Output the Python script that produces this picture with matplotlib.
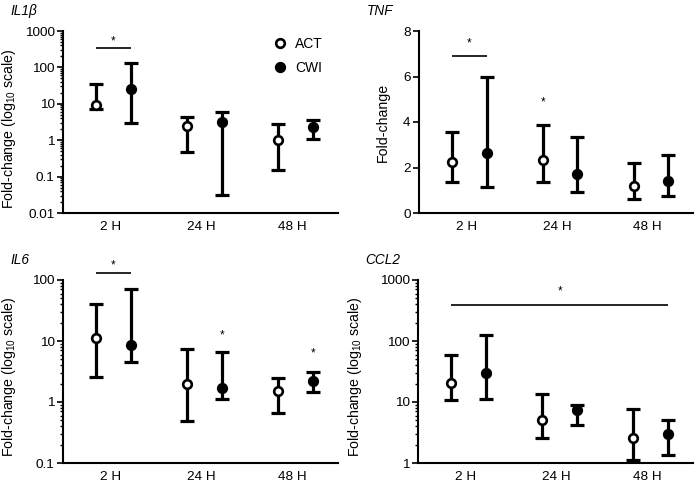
import matplotlib
matplotlib.use("Agg")
import matplotlib.pyplot as plt
from matplotlib.ticker import LogLocator, NullFormatter, FixedLocator, FuncFormatter
from matplotlib.lines import Line2D

plt.rcParams['font.family'] = ['Liberation Sans', 'DejaVu Sans']
plt.rcParams['mathtext.fontset'] = 'custom'
plt.rcParams['mathtext.rm'] = 'Liberation Sans'

groups = ["2 H", "24 H", "48 H"]

il1b_act = [9.0, 2.5, 1.0]
il1b_act_lo = [7.0, 0.47, 0.15]
il1b_act_hi = [35.0, 4.4, 2.8]
il1b_cwi = [25.0, 3.2, 2.35]
il1b_cwi_lo = [2.9, 0.032, 1.1]
il1b_cwi_hi = [130.0, 6.0, 3.6]

tnf_act = [2.24, 2.32, 1.19]
tnf_act_lo = [1.38, 1.38, 0.63]
tnf_act_hi = [3.58, 3.88, 2.2]
tnf_cwi = [2.62, 1.73, 1.39]
tnf_cwi_lo = [1.14, 0.91, 0.76]
tnf_cwi_hi = [6.0, 3.36, 2.55]

il6_act = [11.1, 1.95, 1.49]
il6_act_lo = [2.6, 0.48, 0.66]
il6_act_hi = [41.0, 7.4, 2.44]
il6_cwi = [8.6, 1.69, 2.2]
il6_cwi_lo = [4.5, 1.14, 1.45]
il6_cwi_hi = [70.0, 6.7, 3.06]

ccl2_act = [20.7, 5.0, 2.55]
ccl2_act_lo = [10.9, 2.6, 1.12]
ccl2_act_hi = [59.0, 13.6, 7.6]
ccl2_cwi = [29.5, 7.3, 3.0]
ccl2_cwi_lo = [11.4, 4.2, 1.35]
ccl2_cwi_hi = [124.0, 8.9, 5.1]

W, H = 695, 482
fig = plt.figure(figsize=(W / 100, H / 100), dpi=100)


def px_axes(l, r, t, b):
    return fig.add_axes([l / W, 1 - b / H, (r - l) / W, (b - t) / H])


xc = [1, 2, 3]
off = 0.19
shift = 0.035


def draw(ax, act, alo, ahi, cwi, clo, chi, log, ylim, yticks, ylabel, title, label_xy):
    xa = [x - off + shift for x in xc]
    xw = [x + off + shift for x in xc]
    for xs, v, lo, hi, face in [(xa, act, alo, ahi, 'white'), (xw, cwi, clo, chi, 'black')]:
        yerr = [[vi - l for vi, l in zip(v, lo)], [h - vi for vi, h in zip(v, hi)]]
        ax.errorbar(xs, v, yerr=yerr, fmt='none', ecolor='black', elinewidth=2.3,
                    capsize=4.8, capthick=2.3, zorder=2)
        ax.plot(xs, v, 'o', ms=6.2, mfc=face, mec='black', mew=1.9, zorder=3, ls='none')
    if log:
        ax.set_yscale('log')
        ax.yaxis.set_major_locator(FixedLocator(yticks))
        ax.yaxis.set_major_formatter(FuncFormatter(lambda v, p: ('%g' % v)))
        ax.yaxis.set_minor_locator(LogLocator(base=10, subs=range(2, 10), numticks=20))
        ax.yaxis.set_minor_formatter(NullFormatter())
    else:
        ax.set_yticks(yticks)
    ax.set_ylim(*ylim)
    ax.set_xlim(0.48, 3.5)
    ax.set_xticks(xc)
    ax.set_xticklabels(groups)
    ax.tick_params(axis='x', length=0, pad=6, labelsize=9.7)
    ax.tick_params(axis='y', which='major', length=4, width=1.2, labelsize=9.7, pad=2)
    ax.tick_params(axis='y', which='minor', length=2, width=1.0)
    for s in ['top', 'right']:
        ax.spines[s].set_visible(False)
    for s in ['left', 'bottom']:
        ax.spines[s].set_linewidth(1.5)
    ax.set_ylabel(ylabel, fontsize=10.2)
    ax.yaxis.set_label_coords(*label_xy)
    ax.text(-0.19, 1.11, title, transform=ax.transAxes, fontsize=9.8,
            style='italic', ha='left', va='center')
    return xa, xw


def sig_bar(ax, x0, x1, y, ystar):
    ax.plot([x0, x1], [y, y], color='black', lw=1.2, solid_capstyle='butt', clip_on=False)
    ax.text((x0 + x1) / 2, ystar, '*', ha='center', va='center', fontsize=8.5)


ylab_log = 'Fold-change (log$_{10}$ scale)'

ax1 = px_axes(63, 338, 31, 213)
xa, xw = draw(ax1, il1b_act, il1b_act_lo, il1b_act_hi, il1b_cwi, il1b_cwi_lo, il1b_cwi_hi,
              True, (0.01, 1000), [0.01, 0.1, 1, 10, 100, 1000], ylab_log, 'IL1β',
              (-0.165, 0.46))
sig_bar(ax1, xa[0], xw[0], 335, 520)
h1 = Line2D([], [], marker='o', ls='none', ms=6.2, mfc='white', mec='black', mew=1.9)
h2 = Line2D([], [], marker='o', ls='none', ms=6.2, mfc='black', mec='black', mew=1.9)
ax1.legend([h1, h2], ['ACT', 'CWI'], loc='upper left', bbox_to_anchor=(0.745, 1.0),
           frameon=False, fontsize=10, labelspacing=0.72, handletextpad=0.55,
           handlelength=1.0, borderaxespad=0)

ax2 = px_axes(419, 693, 31, 213)
xa, xw = draw(ax2, tnf_act, tnf_act_lo, tnf_act_hi, tnf_cwi, tnf_cwi_lo, tnf_cwi_hi,
              False, (0, 8), [0, 2, 4, 6, 8], 'Fold-change', 'TNF', (-0.106, 0.5))
sig_bar(ax2, xa[0], xw[0], 6.9, 7.45)
ax2.text(xa[1], 4.85, '*', ha='center', va='center', fontsize=8.5)

ax3 = px_axes(63, 338, 280, 463)
xa, xw = draw(ax3, il6_act, il6_act_lo, il6_act_hi, il6_cwi, il6_cwi_lo, il6_cwi_hi,
              True, (0.1, 100), [0.1, 1, 10, 100], ylab_log, 'IL6', (-0.165, 0.47))
sig_bar(ax3, xa[0], xw[0], 130, 175)
ax3.text(xw[1], 12.3, '*', ha='center', va='center', fontsize=8.5)
ax3.text(xw[2], 6.3, '*', ha='center', va='center', fontsize=8.5)

ax4 = px_axes(418, 693, 280, 463)
xa, xw = draw(ax4, ccl2_act, ccl2_act_lo, ccl2_act_hi, ccl2_cwi, ccl2_cwi_lo, ccl2_cwi_hi,
              True, (1, 1000), [1, 10, 100, 1000], ylab_log, 'CCL2', (-0.195, 0.47))
sig_bar(ax4, xa[0], xw[2], 393, 650)

fig.savefig('out.png', dpi=100)
